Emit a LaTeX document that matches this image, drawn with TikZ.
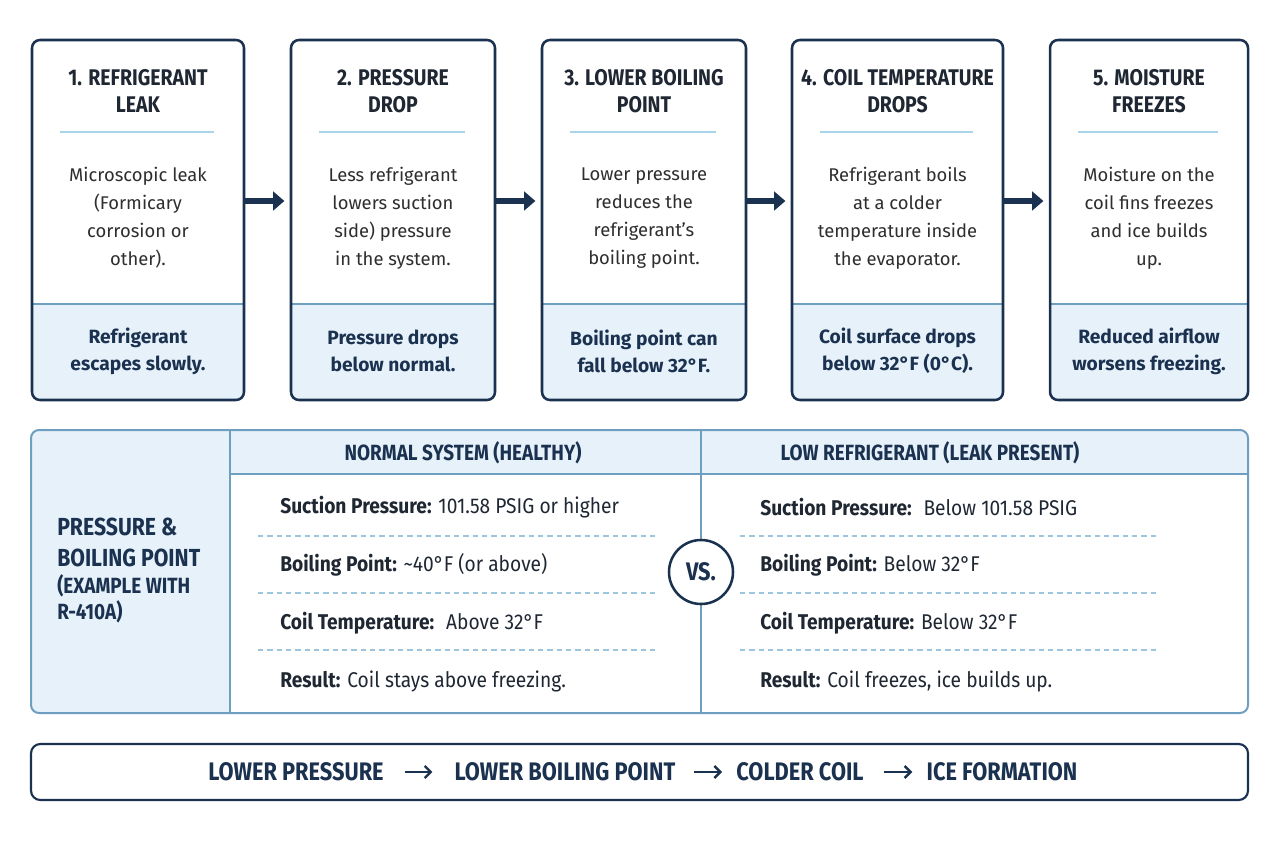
\documentclass[tikz,border=0pt]{standalone}
\usepackage{fontspec}
\setmainfont{Fira Sans}
\newfontfamily\cond[FakeStretch=0.86]{Fira Sans}
\newfontfamily\rowf[FakeStretch=0.9]{Fira Sans}
\usetikzlibrary{arrows.meta,calc}
\definecolor{navy}{HTML}{1B3150}
\definecolor{ink}{HTML}{1F2733}
\definecolor{body}{HTML}{2E2E2E}
\definecolor{pale}{HTML}{E6F1FA}
\definecolor{rulec}{HTML}{A9D4EA}
\definecolor{steel}{HTML}{6E9EC0}
\definecolor{dashc}{HTML}{9CC6DE}
\newcommand\stepcard[6]{%
  \pgfmathsetmacro\cw{(#3-#2)*0.75}%
  \pgfmathsetmacro\cx{(#2+#3)/2}%
  \begin{scope}
    \clip (#2,304) rectangle (#3,402);
    \fill[pale, rounded corners=6pt] (#2,40) rectangle (#3,400);
  \end{scope}
  \draw[steel, line width=0.8pt] (#2,304) -- (#3,304);
  \node[card, minimum width=\cw pt] (#1) at (\cx,220) {};
  \draw[rulec, line width=2.2pt] (#2+28,132) -- (#3-30,132);
  \node[headtxt] (#1h) at (\cx,91) {#4};
  \node[bodytxt] (#1b) at (\cx,218) {#5};
  \node[bottxt] (#1f) at (\cx,351) {#6};
}
\begin{document}
\begin{tikzpicture}[x=0.75pt,y=-0.75pt,
  card/.style={draw=navy, line width=1.9pt, rounded corners=6pt, minimum height=270pt, inner sep=0pt},
  headtxt/.style={align=center, font=\cond\bfseries\fontsize{17}{20.25}\selectfont, text=ink},
  bodytxt/.style={align=center, font=\fontsize{13.8}{21}\selectfont, text=body},
  bottxt/.style={align=center, font=\bfseries\fontsize{14.4}{20.25}\selectfont, text=navy},
  flowarrow/.style={draw=navy, line width=4.2pt, -{Triangle[length=8.5pt,width=14pt]}, shorten >=4pt},
  coltitle/.style={font=\cond\bfseries\fontsize{16.5}{18}\selectfont, text=navy},
  rowtxt/.style={anchor=west, inner sep=0pt, font=\rowf\fontsize{16}{18}\selectfont, text=ink},
  dashline/.style={draw=dashc, line width=0.9pt, dash pattern=on 4pt off 3pt},
  lbl/.style={anchor=base west, inner sep=0pt, font=\cond\bfseries, text=navy},
  bartxt/.style={font=\cond\bfseries\fontsize{19}{22}\selectfont, text=navy, inner sep=0pt},
  barrow/.style={draw=navy, line width=1.8pt, -{Straight Barb[length=4.5pt,width=9pt]}}
]
\fill[white] (0,0) rectangle (1280,842);
\useasboundingbox (0,0) rectangle (1280,842);

% ---- step cards ----
\stepcard{b1}{32}{244}{1. REFRIGERANT\\LEAK}{Microscopic leak\\(Formicary\\corrosion or\\other).}{Refrigerant\\escapes slowly.}
\stepcard{b2}{291}{495}{2. PRESSURE\\DROP}{Less refrigerant\\lowers suction\\side) pressure\\in the system.}{Pressure drops\\below normal.}
\stepcard{b3}{542}{746}{3. LOWER BOILING\\POINT}{Lower pressure\\reduces the\\refrigerant’s\\boiling point.}{Boiling point can\\fall below 32°F.}
\stepcard{b4}{792}{1003}{4. COIL TEMPERATURE\\DROPS}{Refrigerant boils\\at a colder\\temperature inside\\the evaporator.}{Coil surface drops\\below 32°F (0°C).}
\stepcard{b5}{1050}{1248}{5. MOISTURE\\FREEZES}{Moisture on the\\coil fins freezes\\and ice builds\\up.}{Reduced airflow\\worsens freezing.}

\draw[flowarrow] ([yshift=14.25pt]b1.east) -- ([yshift=14.25pt]b2.west);
\draw[flowarrow] ([yshift=14.25pt]b2.east) -- ([yshift=14.25pt]b3.west);
\draw[flowarrow] ([yshift=14.25pt]b3.east) -- ([yshift=14.25pt]b4.west);
\draw[flowarrow] ([yshift=14.25pt]b4.east) -- ([yshift=14.25pt]b5.west);

% ---- comparison table ----
\begin{scope}
  \clip[rounded corners=6pt] (31,430) rectangle (1248,713);
  \fill[pale] (31,430) rectangle (230,713);
  \fill[pale] (230,430) rectangle (1248,474);
\end{scope}
\draw[steel, line width=1.2pt] (230,430) -- (230,713);
\draw[steel, line width=1.2pt] (230,474) -- (1248,474);
\draw[steel, line width=1.2pt] (701,430) -- (701,713);
\node[draw=steel, line width=1.5pt, rounded corners=6pt, minimum width=912.75pt, minimum height=212.25pt, inner sep=0pt] (tbl) at (639.5,571.5) {};

\node[coltitle] (hn) at (463,453) {NORMAL SYSTEM (HEALTHY)};
\node[coltitle] (hl) at (930,453) {LOW REFRIGERANT (LEAK PRESENT)};

\node[lbl, font=\cond\bfseries\fontsize{18.5}{20}\selectfont] (l1) at (57,535) {PRESSURE \&};
\node[lbl, font=\cond\bfseries\fontsize{18.5}{20}\selectfont] (l2) at (57,566) {BOILING POINT};
\node[lbl, font=\cond\bfseries\fontsize{16.5}{18}\selectfont] (l3) at (57,593) {(EXAMPLE WITH};
\node[lbl, font=\cond\bfseries\fontsize{16.5}{18}\selectfont] (l4) at (57,619) {R-410A)};

\draw[dashline] (258,536) -- (656,536);
\draw[dashline] (258,593) -- (656,593);
\draw[dashline] (258,650) -- (656,650);
\draw[dashline] (740,536) -- (1158,536);
\draw[dashline] (740,593) -- (1158,593);
\draw[dashline] (740,650) -- (1158,650);

\node[rowtxt] (n1) at (280,507) {\textbf{Suction Pressure:} 101.58 PSIG or higher};
\node[rowtxt] (n2) at (280,565) {\textbf{Boiling Point:} \textasciitilde40°F (or above)};
\node[rowtxt] (n3) at (280,623) {\textbf{Coil Temperature:} \ Above 32°F};
\node[rowtxt] (n4) at (280,681) {\textbf{Result:} Coil stays above freezing.};
\node[rowtxt] (r1) at (760,507) {\textbf{Suction Pressure:} \ Below 101.58 PSIG};
\node[rowtxt] (r2) at (760,565) {\textbf{Boiling Point:} Below 32°F};
\node[rowtxt] (r3) at (760,623) {\textbf{Coil Temperature:} Below 32°F};
\node[rowtxt] (r4) at (760,681) {\textbf{Result:} Coil freezes, ice builds up.};

\node[circle, draw=navy, line width=1.9pt, fill=white, minimum size=48pt, inner sep=0pt,
      font=\cond\bfseries\fontsize{19}{19}\selectfont, text=navy] (vs) at (701,572) {VS.};

% ---- summary bar ----
\node[draw=navy, line width=1.6pt, rounded corners=7pt, minimum width=912.75pt, minimum height=42pt, inner sep=0pt] (bar) at (639.5,772) {};
\node[bartxt] (p1) at (296,772) {LOWER PRESSURE};
\node[bartxt] (p2) at (565,772) {LOWER BOILING POINT};
\node[bartxt] (p3) at (800,772) {COLDER COIL};
\node[bartxt] (p4) at (1002,772) {ICE FORMATION};
\draw[barrow, shorten <=15.5pt, shorten >=16.5pt] (p1) -- (p2);
\draw[barrow, shorten <=13.5pt, shorten >=10.5pt] (p2) -- (p3);
\draw[barrow, shorten <=15pt, shorten >=10.5pt] (p3) -- (p4);
\end{tikzpicture}
\end{document}
